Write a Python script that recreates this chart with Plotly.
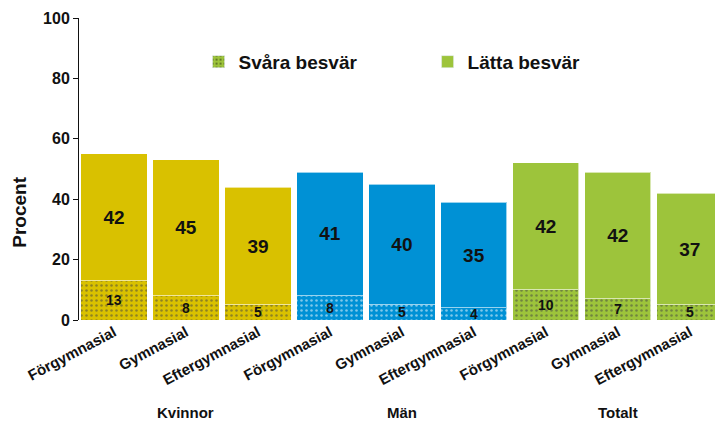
import plotly.graph_objects as go

# Utbildningsnivå per grupp
levels = ["Förgymnasial", "Gymnasial", "Eftergymnasial"] * 3
groups = ["Kvinnor", "Män", "Totalt"]
severe = [13, 8, 5, 8, 5, 4, 10, 7, 5]      # Svåra besvär
mild = [42, 45, 39, 41, 40, 35, 42, 42, 37]  # Lätta besvär

group_colors = ["#D9C100", "#0091D5", "#9DC43B"]
bar_colors = [c for c in group_colors for _ in range(3)]
xpos = list(range(len(levels)))

FONT = "Liberation Sans, Arial, sans-serif"
DOTS = dict(shape=".", fgcolor="#000", size=5, solidity=0.2)

fig = go.Figure()

fig.add_trace(go.Bar(
    x=xpos, y=severe, name="Svåra besvär", showlegend=False,
    marker=dict(color=bar_colors, line=dict(color="rgba(255,255,255,0.6)", width=1),
                pattern=DOTS),
    width=0.92, hoverinfo="skip",
))
fig.add_trace(go.Bar(
    x=xpos, y=mild, name="Lätta besvär", showlegend=False,
    marker=dict(color=bar_colors, line=dict(color="rgba(255,255,255,0.6)", width=1)),
    text=[str(v) for v in mild], textposition="inside", insidetextanchor="middle",
    constraintext="none",
    textfont=dict(family=FONT, size=19, color="#111", weight="bold"),
    width=0.92, hoverinfo="skip",
))

# Value labels for the small (severe) segments, centred in each segment
for x, v in zip(xpos, severe):
    fig.add_annotation(
        x=x, y=v / 2, text=str(v), showarrow=False,
        font=dict(family=FONT, size=14, color="#111", weight="bold"),
        yanchor="middle",
    )

# Legend entries (green swatches)
fig.add_trace(go.Bar(
    x=[None], y=[None], name="Svåra besvär",
    marker=dict(color=group_colors[2], pattern=DOTS),
))
fig.add_trace(go.Bar(
    x=[None], y=[None], name="Lätta besvär",
    marker=dict(color=group_colors[2]),
))

# Group labels under the category ticks
for i, g in enumerate(groups):
    fig.add_annotation(
        x=i * 3 + 1, y=-0.305, xref="x", yref="paper", text=g, showarrow=False,
        font=dict(family=FONT, size=15, color="#111", weight="bold"),
        yanchor="middle",
    )

# Y-axis title
fig.add_annotation(
    x=-0.093, y=0.358, xref="paper", yref="paper", text="Procent", showarrow=False,
    textangle=-90, font=dict(family=FONT, size=19, color="#111", weight="bold"),
    xanchor="center", yanchor="middle",
)

fig.update_layout(
    width=715, height=423,
    margin=dict(l=79, r=0, t=18, b=103),
    paper_bgcolor="white", plot_bgcolor="white",
    barmode="stack",
    font=dict(family=FONT, color="#111"),
    legend=dict(
        orientation="h", x=0.188, y=0.855, xanchor="left", yanchor="middle",
        font=dict(family=FONT, size=19, color="#111", weight="bold"),
        entrywidth=184, itemwidth=30, bgcolor="rgba(0,0,0,0)",
        traceorder="normal",
    ),
    xaxis=dict(
        range=[-0.486, 8.35], tickvals=xpos, ticktext=levels, tickangle=-28,
        showgrid=False, zeroline=False, showline=False, ticks="",
        tickfont=dict(family=FONT, size=15, color="#111", weight="bold"),
    ),
    yaxis=dict(
        range=[0, 100], tickvals=[0, 20, 40, 60, 80, 100],
        showgrid=False, zeroline=False, showline=True, linecolor="#111", linewidth=1,
        ticks="outside", ticklen=5, tickcolor="#111",
        tickfont=dict(family=FONT, size=16, color="#111", weight="bold"),
    ),
)

fig.write_html("out.html")
